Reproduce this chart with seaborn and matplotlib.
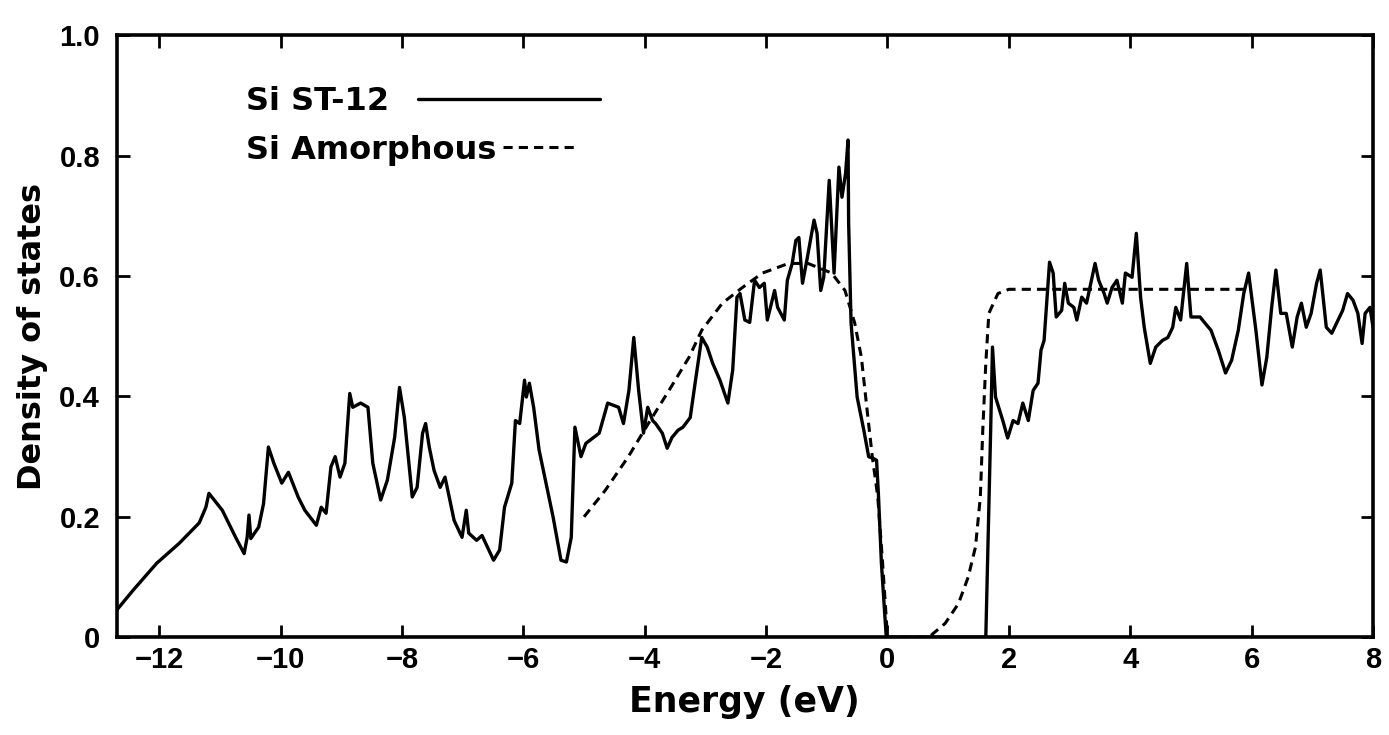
import numpy as np
import pandas as pd
import matplotlib
matplotlib.use("Agg")
import matplotlib.pyplot as plt
import seaborn as sns

# Si ST-12 (solid)
st12_e = [-12.70, -12.43, -12.04, -11.67, -11.34, -11.23, -11.18, -10.96, -10.74, -10.60,
          -10.55, -10.52, -10.49, -10.36, -10.28, -10.20, -10.11, -9.98, -9.87, -9.71,
          -9.60, -9.41, -9.33, -9.25, -9.17, -9.10, -9.02, -8.94, -8.86, -8.81,
          -8.68, -8.56, -8.48, -8.35, -8.24, -8.12, -8.04, -7.96, -7.83, -7.75,
          -7.66, -7.61, -7.55, -7.47, -7.37, -7.29, -7.14, -7.01, -6.94, -6.90,
          -6.77, -6.68, -6.49, -6.39, -6.31, -6.19, -6.13, -6.06, -5.98, -5.95,
          -5.90, -5.83, -5.74, -5.51, -5.38, -5.29, -5.21, -5.15, -5.05, -4.97,
          -4.75, -4.61, -4.43, -4.35, -4.26, -4.18, -4.10, -4.02, -3.95, -3.87,
          -3.82, -3.71, -3.63, -3.55, -3.45, -3.37, -3.25, -3.17, -3.06, -2.97,
          -2.88, -2.76, -2.63, -2.55, -2.48, -2.43, -2.35, -2.27, -2.19, -2.11,
          -2.03, -1.98, -1.86, -1.81, -1.70, -1.65, -1.57, -1.51, -1.46, -1.40,
          -1.32, -1.21, -1.16, -1.10, -1.05, -0.96, -0.88, -0.80, -0.75, -0.69,
          -0.65, -0.64, -0.60, -0.50, -0.39, -0.31, -0.23, -0.18, -0.15, -0.10,
          -0.02, 1.62, 1.70, 1.73, 1.78, 1.90, 1.98, 2.07, 2.15, 2.23,
          2.32, 2.40, 2.48, 2.53, 2.58, 2.63, 2.67, 2.73, 2.78, 2.87,
          2.92, 2.98, 3.07, 3.12, 3.20, 3.28, 3.37, 3.42, 3.48, 3.57,
          3.62, 3.70, 3.78, 3.87, 3.92, 4.03, 4.10, 4.17, 4.23, 4.33,
          4.42, 4.53, 4.62, 4.70, 4.75, 4.83, 4.93, 5.00, 5.15, 5.23,
          5.33, 5.45, 5.57, 5.67, 5.78, 5.87, 5.95, 6.07, 6.17, 6.25,
          6.33, 6.40, 6.48, 6.57, 6.67, 6.75, 6.82, 6.90, 6.98, 7.07,
          7.13, 7.23, 7.32, 7.40, 7.50, 7.58, 7.67, 7.75, 7.82, 7.87,
          7.95, 8.00]
st12_dos = [0.045, 0.078, 0.123, 0.156, 0.190, 0.216, 0.239, 0.211, 0.166, 0.139,
            0.166, 0.203, 0.164, 0.183, 0.222, 0.316, 0.289, 0.256, 0.274, 0.233,
            0.211, 0.186, 0.216, 0.206, 0.283, 0.300, 0.266, 0.289, 0.405, 0.382,
            0.389, 0.382, 0.289, 0.228, 0.261, 0.332, 0.415, 0.365, 0.233, 0.249,
            0.339, 0.355, 0.316, 0.277, 0.249, 0.266, 0.194, 0.166, 0.211, 0.173,
            0.161, 0.169, 0.128, 0.145, 0.216, 0.256, 0.360, 0.355, 0.427, 0.399,
            0.422, 0.382, 0.311, 0.200, 0.128, 0.125, 0.166, 0.349, 0.300, 0.322,
            0.339, 0.389, 0.382, 0.355, 0.410, 0.498, 0.410, 0.339, 0.382, 0.360,
            0.355, 0.339, 0.314, 0.332, 0.344, 0.349, 0.365, 0.422, 0.498, 0.482,
            0.455, 0.427, 0.389, 0.444, 0.565, 0.571, 0.527, 0.523, 0.593, 0.581,
            0.588, 0.527, 0.576, 0.548, 0.527, 0.593, 0.621, 0.659, 0.664, 0.588,
            0.631, 0.693, 0.671, 0.576, 0.598, 0.759, 0.605, 0.781, 0.731, 0.771,
            0.826, 0.688, 0.522, 0.399, 0.344, 0.300, 0.297, 0.294, 0.239, 0.123,
            0.000, 0.000, 0.344, 0.482, 0.399, 0.360, 0.331, 0.360, 0.355, 0.389,
            0.360, 0.410, 0.422, 0.477, 0.493, 0.565, 0.623, 0.605, 0.532, 0.543,
            0.588, 0.555, 0.548, 0.527, 0.565, 0.555, 0.598, 0.621, 0.593, 0.571,
            0.555, 0.581, 0.593, 0.555, 0.605, 0.598, 0.671, 0.565, 0.515, 0.455,
            0.482, 0.493, 0.498, 0.515, 0.548, 0.527, 0.621, 0.532, 0.532, 0.522,
            0.510, 0.477, 0.439, 0.460, 0.510, 0.571, 0.605, 0.510, 0.419, 0.465,
            0.548, 0.610, 0.538, 0.538, 0.482, 0.532, 0.555, 0.515, 0.538, 0.588,
            0.610, 0.515, 0.505, 0.522, 0.543, 0.571, 0.560, 0.538, 0.488, 0.538,
            0.548, 0.515]

# Si amorphous (dashed)
amor_e = [-5.00, -4.65, -4.27, -3.94, -3.60, -3.27, -3.06, -2.72, -2.39, -2.06,
          -1.63, -1.31, -0.92, -0.70, -0.54, -0.43, -0.33, -0.25, -0.16, -0.08,
          0.00, 0.68, 0.95, 1.17, 1.33, 1.45, 1.53, 1.57, 1.62, 1.67,
          1.82, 2.00, 6.00]
amor_dos = [0.200, 0.244, 0.300, 0.355, 0.410, 0.465, 0.510, 0.555, 0.581, 0.605,
            0.621, 0.621, 0.605, 0.576, 0.522, 0.465, 0.372, 0.300, 0.233, 0.123,
            0.000, 0.000, 0.023, 0.056, 0.100, 0.150, 0.233, 0.344, 0.455, 0.538,
            0.571, 0.578, 0.578]

x_ticks = [-12, -10, -8, -6, -4, -2, 0, 2, 4, 6, 8]
y_ticks = [0, 0.2, 0.4, 0.6, 0.8, 1.0]
y_labels = ["0", "0.2", "0.4", "0.6", "0.8", "1.0"]

sns.set_style("ticks")
plt.rcParams['font.family'] = ['DejaVu Sans']
plt.rcParams['font.weight'] = 'bold'
for key in ['text.color', 'axes.labelcolor', 'axes.edgecolor', 'xtick.color', 'ytick.color']:
    plt.rcParams[key] = 'black'

fig, ax = plt.subplots(figsize=(13.89, 7.35), dpi=100)
fig.subplots_adjust(left=0.084, right=0.9885, bottom=0.133, top=0.952)

sns.lineplot(x=st12_e, y=st12_dos, sort=False, estimator=None,
             color="black", lw=2.4, ax=ax)
sns.lineplot(x=amor_e, y=amor_dos, sort=False, estimator=None,
             color="black", lw=2.2, ax=ax, linestyle=(0, (3, 2)))
l_st, l_am = ax.lines[0], ax.lines[1]

ax.set_xlim(-12.7, 8)
ax.set_ylim(0, 1.0)
ax.set_xticks(x_ticks)
ax.set_yticks(y_ticks)
ax.set_yticklabels(y_labels)

# tick labels are narrow in the original
for lab in ax.get_xticklabels() + ax.get_yticklabels():
    lab.set_fontfamily(['Liberation Sans', 'DejaVu Sans'])
    lab.set_fontweight('bold')
    lab.set_fontsize(21)

ax.tick_params(direction="in", top=True, right=True, length=9, width=2)
ax.tick_params(axis="x", pad=6)
ax.tick_params(axis="y", pad=12)
for sp in ax.spines.values():
    sp.set_linewidth(2.6)

ax.set_xlabel("Energy (eV)", fontsize=25, fontweight="bold", labelpad=8)
ax.set_ylabel("Density of states", fontsize=23, fontweight="bold", labelpad=8)

leg_font = {"size": 23, "weight": "bold"}
leg1 = ax.legend([l_st], ["Si ST-12"], loc="upper left", bbox_to_anchor=(0.103, 0.915),
                 markerfirst=False, frameon=False, handlelength=5.7, handletextpad=0.9,
                 borderpad=0, borderaxespad=0, prop=leg_font)
ax.add_artist(leg1)
ax.legend([l_am], ["Si Amorphous"], loc="upper left", bbox_to_anchor=(0.103, 0.835),
          markerfirst=False, frameon=False, handlelength=2.3, handletextpad=0.2,
          borderpad=0, borderaxespad=0, prop=leg_font)

fig.savefig("out.png", dpi=100)
